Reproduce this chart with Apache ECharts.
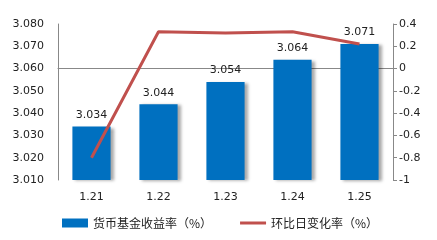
<!DOCTYPE html>
<html><head><meta charset="utf-8">
<script src="https://cdn.jsdelivr.net/npm/echarts@6/dist/echarts.min.js"></script>
<style>html,body{margin:0;padding:0;background:#fff}#c{width:437px;height:240px}</style>
</head><body><div id="c"></div>
<script>
var categories = ['1.21','1.22','1.23','1.24','1.25'];
var yieldValues = [3.034, 3.044, 3.054, 3.064, 3.071];
var changeValues = [-0.8, 0.33, 0.32, 0.33, 0.22];
var seriesNames = ['货币基金收益率（%）', '环比日变化率（%）'];
var font = 'DejaVu Sans, sans-serif';
var chart = echarts.init(document.getElementById('c'));
chart.setOption({
  animation: false,
  textStyle: {fontFamily: font},
  grid: {left: 58, right: 44, top: 24, bottom: 60},
  legend: {
    bottom: 6, left: 57, itemGap: 28, itemWidth: 26, itemHeight: 9,
    textStyle: {fontSize: 12, color: '#222', fontFamily: '"Noto Sans CJK SC", sans-serif'},
    data: [{name: seriesNames[0], icon: 'rect'}, {name: seriesNames[1], icon: 'path://M0,0L26,0L26,3L0,3Z', itemStyle: {color: '#C0504D'}}]
  },
  xAxis: {
    type: 'category', data: categories,
    axisLine: {lineStyle: {color: '#888'}},
    axisTick: {show: false},
    axisLabel: {color: '#222', fontSize: 11, margin: 12}
  },
  yAxis: [{
    type: 'value', min: 3.01, max: 3.08, interval: 0.01,
    axisLine: {show: true, lineStyle: {color: '#888'}},
    axisTick: {show: false},
    splitLine: {show: false},
    axisLabel: {color: '#222', fontSize: 11, margin: 14, formatter: function(v){return v.toFixed(3);}}
  }, {
    type: 'value', min: -1, max: 0.4, interval: 0.2,
    axisLine: {show: true, lineStyle: {color: '#888'}},
    axisTick: {show: true, length: 4, lineStyle: {color: '#888'}},
    splitLine: {show: false},
    axisLabel: {color: '#222', fontSize: 11, margin: 6, formatter: function(v){return Math.round(v*10)/10 + '';}}
  }],
  series: [{
    name: seriesNames[0], type: 'bar', data: yieldValues, barWidth: '57%',
    itemStyle: {color: '#0070C0', shadowColor: 'rgba(0,0,0,0.35)', shadowBlur: 3, shadowOffsetX: 3, shadowOffsetY: 1},
    label: {show: true, position: 'top', color: '#222', fontSize: 11, distance: 6, formatter: function(p){return p.value.toFixed(3);}}
  }, {
    name: seriesNames[1], type: 'line', yAxisIndex: 1, data: changeValues,
    symbol: 'none', lineStyle: {color: '#C0504D', width: 3}, itemStyle: {color: '#C0504D'}
  }]
});
</script></body></html>
